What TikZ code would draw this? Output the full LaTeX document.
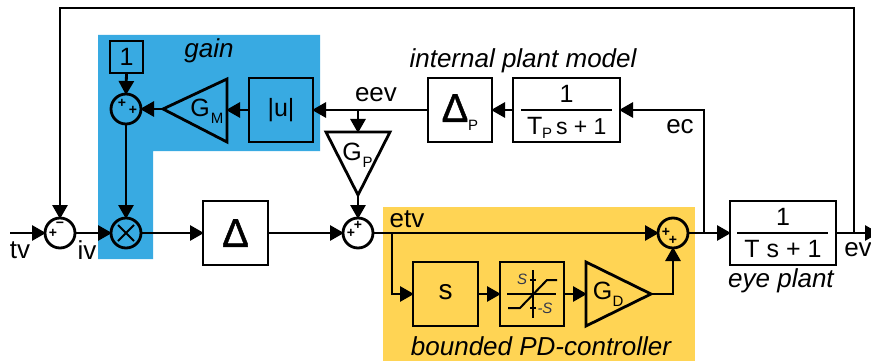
\documentclass[tikz,border=0pt]{standalone}
\usepackage{fontspec}
\setmainfont{Liberation Sans}
\newfontfamily\deltafont[FakeBold=1.2]{Liberation Sans}
\usetikzlibrary{arrows.meta}
\definecolor{gainblue}{RGB}{56,170,226}
\definecolor{pdyellow}{RGB}{255,212,84}
\definecolor{satgray}{RGB}{50,55,75}
\newcommand{\lbl}{\fontsize{26}{28}\selectfont}
\newcommand{\subl}{\fontsize{15}{15}\selectfont}
\tikzset{
  x=1pt,y=-1pt,
  wire/.style={line width=2.8pt,draw=black},
  arr/.style={wire,-{Triangle[length=14pt,width=15pt]},shorten >=-1pt},
  block/.style={draw=black,line width=2.8pt,rectangle,inner sep=0pt,outer sep=0pt},
  sumc/.style={draw=black,line width=2.8pt,circle,minimum size=30pt,inner sep=0pt,outer sep=0pt},
  gainshape/.style={draw=black,line width=2.8pt,line join=miter},
  txt/.style={inner sep=0pt,outer sep=0pt,font=\lbl,text=black},
  btxt/.style={inner sep=0pt,outer sep=0pt,text=black,font=\fontsize{25}{27}\selectfont},
  deltat/.style={inner sep=0pt,outer sep=0pt,text=black,font=\deltafont\fontsize{40}{40}\selectfont},
  itxt/.style={txt,font=\lbl\itshape},
  sgn/.style={inner sep=0pt,outer sep=0pt,font=\fontsize{14}{14}\selectfont\bfseries},
  satl/.style={inner sep=0pt,outer sep=0pt,text=satgray,font=\fontsize{15}{15}\selectfont\itshape},
}
\begin{document}
\begin{tikzpicture}
\path[use as bounding box] (0,0) rectangle (871,361);
\clip (0,0) rectangle (871,361);
% backgrounds
\fill[white] (0,0) rectangle (871,361);
\fill[gainblue] (98,35) -- (320,35) -- (320,151) -- (153,151) -- (153,259) -- (98,259) -- cycle;
\fill[pdyellow] (383,207) rectangle (695,361);
% blocks
\node[block,minimum width=33pt,minimum height=32pt] (one) at (126.5,57) {};
\node[btxt] at (one) {1};
\node[sumc] (sg) at (126,109) {};
\node[block,minimum width=64pt,minimum height=64pt] (abs) at (281,110) {};
\node[btxt] at (abs) {|u|};
\node[sumc] (mul) at (126,233) {};
\draw[line width=1.8pt] (118,225) -- (134,241) (134,225) -- (118,241);
\node[sumc] (s1) at (60,233) {};
\node[block,minimum width=65pt,minimum height=64pt] (del) at (235.5,233) {};
\node[deltat] at (del) {Δ};
\node[block,minimum width=64pt,minimum height=64pt] (delp) at (460,110) {};
\node[deltat] (delpt) at (455,108) {Δ};
\node[txt,font=\subl,anchor=base west] at (468,130) {P};
\node[block,minimum width=107pt,minimum height=64pt] (tfp) at (566.5,110) {};
\draw[wire] (521,110) -- (612,110);
\node[btxt] at (566.5,94) {1};
\node[btxt,anchor=base west] at (527,134) {T};
\node[txt,font=\subl,anchor=base west] at (542,139) {P};
\node[btxt,font=\fontsize{23}{25}\selectfont,anchor=base west] at (556,134) {s + 1};
\node[sumc] (s2) at (358,233) {};
\node[sumc] (s3) at (673,233) {};
\node[block,minimum width=106pt,minimum height=64pt] (eye) at (783,233) {};
\draw[wire] (737,233) -- (828,233);
\node[btxt] at (783,217) {1};
\node[btxt,anchor=base] at (783,257) {T s + 1};
\node[block,minimum width=65pt,minimum height=64pt] (sb) at (445.5,294) {};
\node[txt,font=\fontsize{28}{28}\selectfont] at (445.5,292) {s};
\node[block,minimum width=64pt,minimum height=64pt] (sat) at (532,294) {};
% gain triangles
\coordinate (gmtip) at (163,109);
\coordinate (gmbase) at (227,110);
\draw[gainshape] (gmtip) -- (227,79) -- (227,142) -- cycle;
\node[btxt] at (200,108) {G};
\node[txt,font=\subl] at (217,118) {M};
\coordinate (gptop) at (358,132);
\coordinate (gptip) at (358,195);
\draw[gainshape] (326,132) -- (390,132) -- (gptip) -- cycle;
\node[btxt] at (352,152) {G};
\node[txt,font=\subl] at (367.5,162) {P};
\coordinate (gdbase) at (586,294);
\coordinate (gdtip) at (651,294);
\draw[gainshape] (586,262) -- (gdtip) -- (586,326) -- cycle;
\node[btxt] at (602.5,291) {G};
\node[txt,font=\subl] at (618,301) {D};
% saturation symbol
\draw[line width=2pt] (533,270) -- (533,318) (507,294) -- (556,294);
\draw[line width=2pt] (508,308) -- (520,308) -- (547,280) -- (557,280);
\draw[line width=2pt] (530,280) -- (536,280) (530,308) -- (536,308);
\node[satl] at (522,279) {S};
\node[satl] at (545,308) {-S};
% signs
\node[sgn] at (122,103) {+};
\node[sgn] at (133,110) {+};
\node[sgn] at (53,233) {+};
\node[sgn] at (60,225) {−};
\node[sgn] at (358,225) {+};
\node[sgn] at (351,233) {+};
\node[sgn] at (666,232) {+};
\node[sgn] at (673,240) {+};
% free ends and junctions
\coordinate (tvin) at (10,233);
\coordinate (evout) at (878,233);
\coordinate (fbr) at (854,233);
\coordinate (ect) at (704,233);
\coordinate (eevj) at (358,110);
\coordinate (etvj) at (392,233);
% connectors
\draw[arr] (one.south) -- (sg.north);
\draw[arr] (gmtip) -- (sg.east);
\draw[arr] (gmbase) ++(22,0) -- (gmbase);
\draw[arr] (delp.west) -- (abs.east);
\draw[arr] (eevj) -- (gptop);
\draw[arr] (tfp.west) -- (delp.east);
\draw[arr] (sg.south) -- (mul.north);
\draw[arr] (tvin) -- (s1.west);
\draw[arr] (s1.east) -- (mul.west);
\draw[arr] (mul.east) -- (del.west);
\draw[arr] (del.east) -- (s2.west);
\draw[arr] (gptip) -- (s2.north);
\draw[arr] (s2.east) -- (s3.west);
\draw[arr] (s3.east) -- (eye.west);
\draw[arr] (ect) -- (704,110) -- (tfp.east);
\draw[arr] (etvj) -- (392,294) -- (sb.west);
\draw[arr] (sb.east) -- (sat.west);
\draw[arr] (sat.east) -- (gdbase);
\draw[arr] (gdtip) -- (673,294) -- (s3.south);
\draw[arr] (eye.east) -- (evout);
\draw[arr] (fbr) -- (854,8) -- (60,8) -- (s1.north);
% labels
\node[txt] at (20,250) {tv};
\node[txt] at (87,250) {iv};
\node[txt] at (376,95) {eev};
\node[txt] at (680,127) {ec};
\node[txt] at (407,219) {etv};
\node[txt] at (858,250) {ev};
\node[itxt] at (209,51) {gain};
\node[itxt] at (523,61) {internal plant model};
\node[itxt] at (781,281) {eye plant};
\node[itxt] at (541,346) {bounded PD-controller};
\end{tikzpicture}
\end{document}
